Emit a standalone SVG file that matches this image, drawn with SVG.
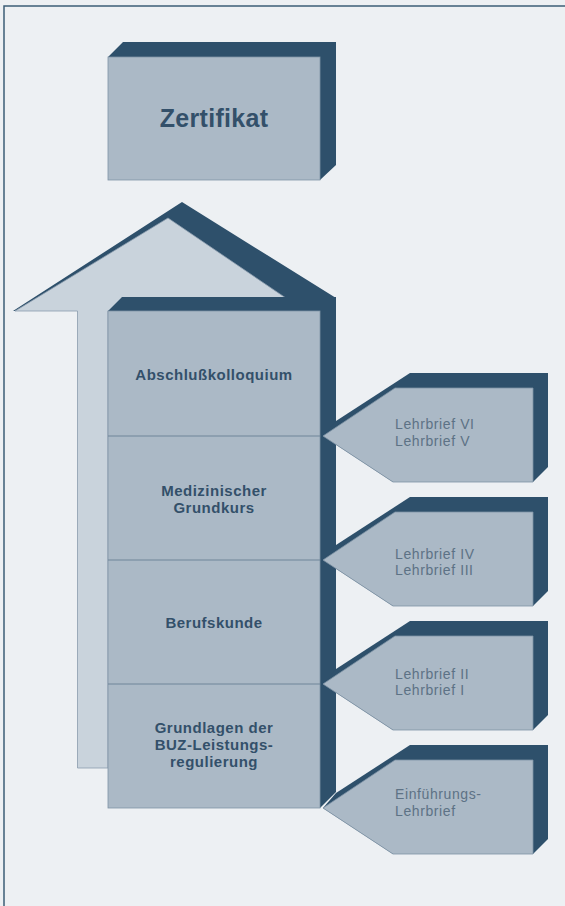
<svg xmlns="http://www.w3.org/2000/svg" width="565" height="906" viewBox="0 0 565 906">
<style>
.bg{fill:#edf0f3}
.frame{fill:none;stroke:#3d5d77;stroke-width:1.5}
.dark{fill:#2e506b}
.face{fill:#abb9c6;stroke:#7f93a5;stroke-width:0.8}
.light{fill:#c9d3dc;stroke:#8a9cad;stroke-width:0.8}
.div{stroke:#6f8599;stroke-width:1}
.lbl{font-family:"Liberation Sans",Arial,sans-serif;font-weight:bold;font-size:15px;fill:#33506a;text-anchor:middle;letter-spacing:0.5px}
.big{font-size:25px;letter-spacing:0.3px}
.tag{font-family:"Liberation Sans",Arial,sans-serif;font-size:14px;fill:#5d7285;letter-spacing:0.6px}
</style>
<rect class="bg" x="0" y="0" width="565" height="906"/>
<path class="frame" d="M4,906 V6 H565"/>

<g id="connectors">
  <g id="arrow">
    <polygon class="dark" points="13,311 182,202 336,298 336,420 108,420 108,311"/>
    <polygon class="light" points="15,311 168,218 305,311 108,311 108,768 77.5,768 77.5,311"/>
  </g>
</g>

<g id="zertifikat">
  <polygon class="dark" points="108,57 123,42 336,42 336,165 320,180 320,57"/>
  <rect class="face" x="108" y="57" width="212" height="123"/>
  <text class="lbl big" x="214" y="127">Zertifikat</text>
</g>

<g id="stack">
  <polygon class="dark" points="108,311 122,297 336,297 336,792 320,808 320,311"/>
  <rect class="face" x="108" y="311" width="212" height="497"/>
  <line class="div" x1="108" y1="436" x2="320" y2="436"/>
  <line class="div" x1="108" y1="560" x2="320" y2="560"/>
  <line class="div" x1="108" y1="684" x2="320" y2="684"/>
</g>
<g id="abschluss">
  <text class="lbl" x="214" y="380">Abschlußkolloquium</text>
</g>
<g id="medizin">
  <text class="lbl" x="214" y="496">Medizinischer</text>
  <text class="lbl" x="214" y="513">Grundkurs</text>
</g>
<g id="berufskunde">
  <text class="lbl" x="214" y="628">Berufskunde</text>
</g>
<g id="grundlagen">
  <text class="lbl" x="214" y="733">Grundlagen der</text>
  <text class="lbl" x="214" y="750">BUZ-Leistungs-</text>
  <text class="lbl" x="214" y="767">regulierung</text>
</g>

<g id="tag1">
  <polygon class="dark" points="323,436 336,421 410,373 548,373 548,467 533,482 393,482"/>
  <polygon class="face" points="323,436 395,388 533,388 533,482 393,482"/>
  <text class="tag" x="395" y="429">Lehrbrief VI</text>
  <text class="tag" x="395" y="446">Lehrbrief V</text>
</g>
<g id="tag2">
  <polygon class="dark" points="323,560 336,545 410,497 548,497 548,591 533,606 393,606"/>
  <polygon class="face" points="323,560 395,512 533,512 533,606 393,606"/>
  <text class="tag" x="395" y="559">Lehrbrief IV</text>
  <text class="tag" x="395" y="575">Lehrbrief III</text>
</g>
<g id="tag3">
  <polygon class="dark" points="323,684 336,669 410,621 548,621 548,715 533,730 393,730"/>
  <polygon class="face" points="323,684 395,636 533,636 533,730 393,730"/>
  <text class="tag" x="395" y="679">Lehrbrief II</text>
  <text class="tag" x="395" y="695">Lehrbrief I</text>
</g>
<g id="tag4">
  <polygon class="dark" points="323,808 336,793 410,745 548,745 548,839 533,854 393,854"/>
  <polygon class="face" points="323,808 395,760 533,760 533,854 393,854"/>
  <text class="tag" x="395" y="799">Einführungs-</text>
  <text class="tag" x="395" y="816">Lehrbrief</text>
</g>
</svg>
